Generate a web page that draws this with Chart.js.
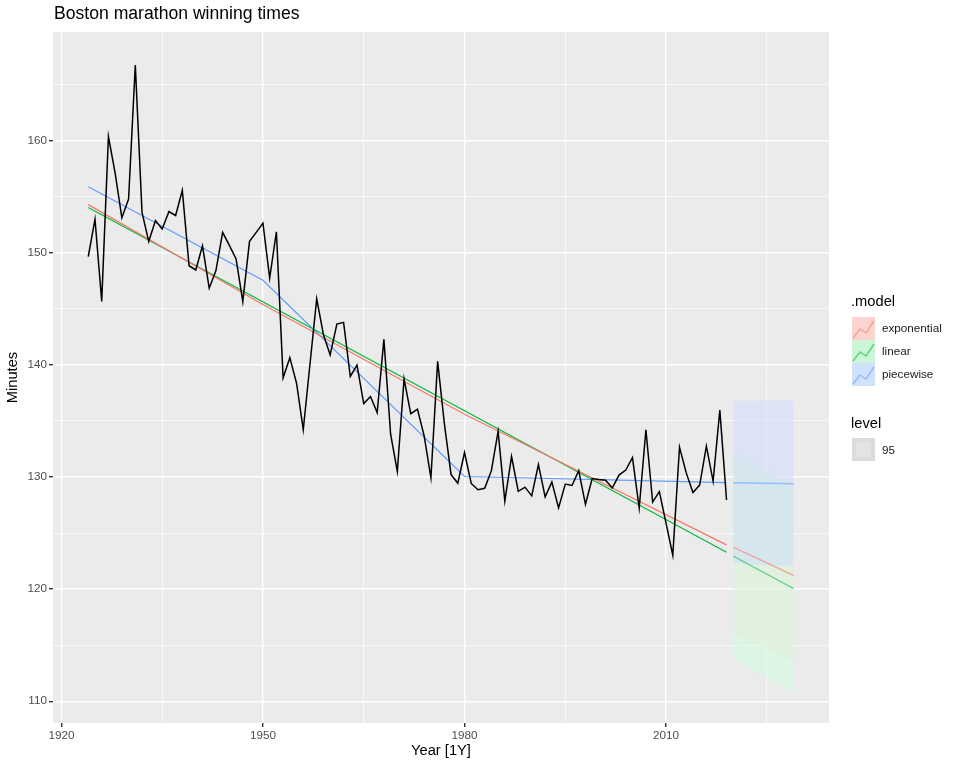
<!DOCTYPE html>
<html>
<head>
<meta charset="utf-8">
<script src="https://cdn.jsdelivr.net/npm/chart.js@4.4.0/dist/chart.umd.min.js"></script>
<style>
  body { margin: 0; background: #fff; font-family: "Liberation Sans", Arial, sans-serif; }
  #wrap { position: relative; width: 960px; height: 768px; }
  #title { position: absolute; left: 54px; top: 3px; font-size: 17.6px; color: #000; }
  .lg-title { position: absolute; left: 851px; font-size: 14.7px; color: #000; }
  .key { position: absolute; left: 852px; width: 23px; height: 23px; }
  .lab { position: absolute; left: 882px; font-size: 11.7px; color: #1a1a1a; }
</style>
</head>
<body>
<div id="wrap">
  <canvas id="chart" width="960" height="768"></canvas>
  <div id="title">Boston marathon winning times</div>
  <div id="legend"></div>
</div>
<script>
// observed winning times (minutes), 1924 - 2019
const firstYear = 1924;
const times = [
  149.67, 153.00, 145.67, 160.37, 157.12, 153.13, 154.80, 166.75, 153.60, 151.02,
  152.88, 152.12, 153.67, 153.33, 155.57, 148.85, 148.47, 150.63, 146.85, 148.42,
  151.83, 150.67, 149.45, 145.65, 151.03, 151.83, 152.65, 147.75, 151.88, 138.85,
  140.65, 138.37, 134.23, 140.08, 145.90, 142.70, 140.90, 143.65, 143.80, 138.97,
  139.98, 136.55, 137.18, 135.75, 142.28, 133.82, 130.50, 138.75, 135.65, 136.05,
  133.65, 129.92, 140.32, 134.77, 130.22, 129.45, 132.18, 129.43, 128.87, 129.00,
  130.57, 134.08, 127.85, 131.83, 128.72, 129.10, 128.32, 131.10, 128.23, 129.55,
  127.25, 129.37, 129.25, 130.57, 127.57, 129.87, 129.78, 129.72, 129.03, 130.18,
  130.62, 131.73, 127.23, 134.22, 127.77, 128.70, 125.87, 123.03, 132.67, 130.37,
  128.62, 129.28, 132.75, 129.62, 135.97, 127.95
];
const years = times.map((_, i) => firstYear + i);

// fitted values
const models = ["exponential", "linear", "piecewise"];
const modelColors = ["#F8766D", "#00BA38", "#619CFF"];
const fitYears = {
  exponential: [1924, 1950, 1980, 2019],
  linear: [1924, 2019],
  piecewise: [1924, 1950, 1980, 2019]
};
const fitValues = {
  exponential: [154.3, 145.4, 135.6, 123.95],
  linear: [154.05, 123.3],
  piecewise: [155.9, 147.55, 130.05, 129.5]
};

// forecasts 2020 - 2029 with 95% intervals
const fcYears = [2020, 2029];
const fcMean = {
  exponential: [123.75, 121.22],
  linear: [122.95, 120.04],
  piecewise: [129.49, 129.4]
};
const fcLower = {
  exponential: [116.02, 113.55],
  linear: [113.79, 110.8],
  piecewise: [122.3, 122.05]
};
const fcUpper = {
  exponential: [132.0, 129.4],
  linear: [132.1, 129.26],
  piecewise: [136.8, 136.85]
};
const bandColors = {
  exponential: "rgba(255, 215, 210, 0.4)",
  linear: "rgba(205, 255, 221, 0.5)",
  piecewise: "rgba(205, 221, 252, 0.55)"
};
// lower order = drawn on top
const bandOrder = { exponential: 6, linear: 5, piecewise: 4 };
const fcLineColors = {
  exponential: "rgba(248, 118, 109, 0.55)",
  linear: "rgba(0, 186, 56, 0.5)",
  piecewise: "rgba(97, 156, 255, 0.55)"
};

const xTicks = [1920, 1935, 1950, 1965, 1980, 1995, 2010, 2025];
const yTicks = [110, 115, 120, 125, 130, 135, 140, 145, 150, 155, 160, 165];

const pts = (xs, ys) => xs.map((x, i) => ({ x: x, y: ys[i] }));

const datasets = [];
datasets.push({
  data: pts(years, times),
  borderColor: "#000", borderWidth: 1.5, pointRadius: 0, order: 0
});
models.forEach((m, i) => {
  datasets.push({
    data: pts(fitYears[m], fitValues[m]),
    borderColor: modelColors[i], borderWidth: 1.2, pointRadius: 0, order: 1
  });
});
models.forEach((m) => {
  datasets.push({
    data: pts(fcYears, fcMean[m]),
    borderColor: fcLineColors[m], borderWidth: 1.5, pointRadius: 0, order: 2
  });
});
models.forEach((m) => {
  datasets.push({
    data: pts(fcYears, fcLower[m]),
    borderColor: "rgba(0,0,0,0)", borderWidth: 0, pointRadius: 0, fill: false, order: bandOrder[m]
  });
  datasets.push({
    data: pts(fcYears, fcUpper[m]),
    borderColor: "rgba(0,0,0,0)", borderWidth: 0, pointRadius: 0,
    fill: "-1", backgroundColor: bandColors[m], order: bandOrder[m]
  });
});

const panelBg = {
  id: "panelBg",
  beforeDraw(chart) {
    const a = chart.chartArea, c = chart.ctx;
    c.save();
    c.fillStyle = "#EBEBEB";
    c.fillRect(a.left, a.top, a.right - a.left, a.bottom - a.top);
    c.restore();
  }
};

const tickFont = { family: "'Liberation Sans', Arial, sans-serif", size: 11.7 };
const titleFont = { family: "'Liberation Sans', Arial, sans-serif", size: 14.7 };

new Chart(document.getElementById("chart").getContext("2d"), {
  type: "line",
  data: { datasets: datasets },
  options: {
    responsive: false,
    animation: false,
    devicePixelRatio: 1,
    layout: { padding: { left: 0, right: 131, top: 32, bottom: 0 } },
    plugins: { legend: { display: false }, tooltip: { enabled: false } },
    elements: { line: { tension: 0 } },
    scales: {
      x: {
        type: "linear", min: 1918.75, max: 2034.25,
        afterBuildTicks: (s) => { s.ticks = xTicks.map(v => ({ value: v })); },
        afterFit: (s) => { s.height = 45; },
        border: { display: false },
        grid: {
          color: "#fff",
          lineWidth: (c) => (c.tick && c.tick.value % 30 === 0 ? 1.4 : 0.7),
          tickColor: (c) => (c.tick && c.tick.value % 30 === 0 ? "#333" : "rgba(0,0,0,0)"),
          tickLength: 4
        },
        ticks: {
          color: "#4D4D4D", font: tickFont, padding: 2, maxRotation: 0,
          callback: (v) => (v % 30 === 0 ? String(v) : "")
        },
        title: { display: true, text: "Year [1Y]", color: "#000", font: titleFont, padding: { top: 2, bottom: 8 } }
      },
      y: {
        type: "linear", min: 108.06, max: 169.7,
        afterBuildTicks: (s) => { s.ticks = yTicks.map(v => ({ value: v })); },
        afterFit: (s) => { s.width = 53; },
        border: { display: false },
        grid: {
          color: "#fff",
          lineWidth: (c) => (c.tick && c.tick.value % 10 === 0 ? 1.4 : 0.7),
          tickColor: (c) => (c.tick && c.tick.value % 10 === 0 ? "#333" : "rgba(0,0,0,0)"),
          tickLength: 4
        },
        ticks: {
          color: "#4D4D4D", font: tickFont, padding: 2,
          callback: (v) => (v % 10 === 0 ? String(v) : "")
        },
        title: { display: true, text: "Minutes", color: "#000", font: titleFont, padding: { top: 4, bottom: 2 } }
      }
    }
  },
  plugins: [panelBg]
});

// legend in the ggplot style
const keyFills = ["#FBD3CF", "#CCF5D8", "#D2E1FB"];
const lg = document.getElementById("legend");
let html = '<div class="lg-title" style="top:293px">.model</div>';
models.forEach((m, i) => {
  const top = 317 + i * 23;
  html += '<svg class="key" style="top:' + top + 'px" width="23" height="23">' +
    '<rect width="23" height="23" fill="' + keyFills[i] + '"/>' +
    '<polyline points="1,21 8,12 14,16 22,4" fill="none" stroke="' + modelColors[i] +
    '" stroke-opacity="0.55" stroke-width="1.4"/></svg>';
  html += '<div class="lab" style="top:' + (top + 4) + 'px">' + m + '</div>';
});
html += '<div class="lg-title" style="top:415px">level</div>';
html += '<svg class="key" style="top:438px" width="23" height="23">' +
  '<rect width="23" height="23" fill="#DCDCDC"/><rect x="4" y="4" width="15" height="15" fill="#E3E3E3"/></svg>';
html += '<div class="lab" style="top:443px">95</div>';
lg.innerHTML = html;
</script>
</body>
</html>
